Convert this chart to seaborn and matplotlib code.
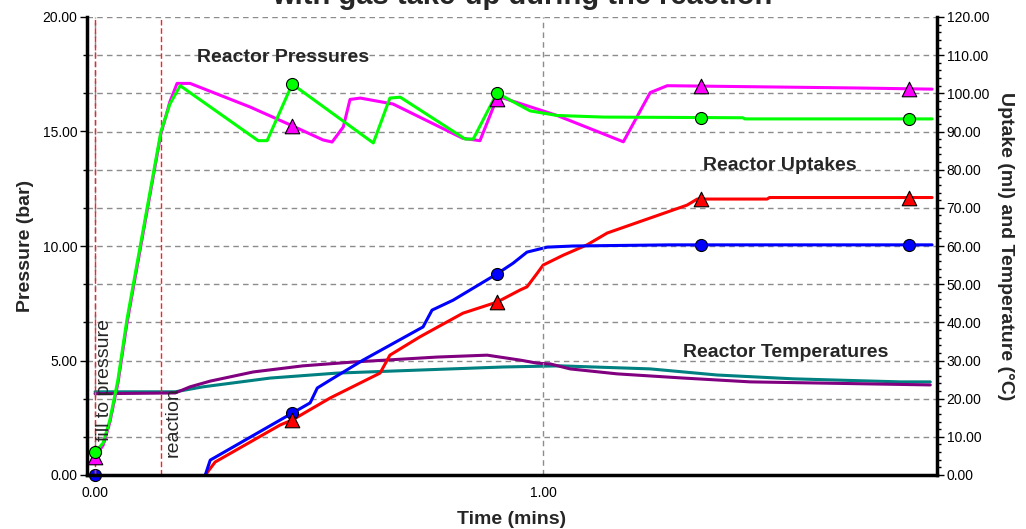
import numpy as np
import pandas as pd
import matplotlib
matplotlib.use("Agg")
import matplotlib.pyplot as plt
import seaborn as sns
from matplotlib.ticker import FixedLocator, MultipleLocator, FormatStrFormatter

# ---------------- data ----------------
# Reactor pressures (bar) - left axis
press_green_t = [0.0, 0.018, 0.033, 0.051, 0.071, 0.147, 0.167, 0.190, 0.364, 0.384, 0.440,
                 0.621, 0.658, 0.681, 0.826, 0.844, 0.897, 0.971, 1.031, 1.134, 1.446, 1.450, 1.868]
press_green_v = [1.0, 1.4, 2.4, 4.15, 6.77, 15.0, 16.2, 17.0, 14.6, 14.6, 17.07,
                 14.5, 16.46, 16.5, 14.67, 14.67, 16.68, 15.9, 15.7, 15.63, 15.6, 15.55, 15.55]

press_magenta_t = [0.0, 0.018, 0.033, 0.051, 0.071, 0.147, 0.167, 0.183, 0.212, 0.346, 0.440,
                   0.509, 0.529, 0.554, 0.569, 0.592, 0.665, 0.821, 0.859, 0.897, 0.911, 1.031,
                   1.179, 1.239, 1.277, 1.701, 1.868]
press_magenta_v = [0.8, 1.3, 2.3, 4.0, 6.6, 14.9, 16.3, 17.1, 17.1, 16.07, 15.25,
                   14.63, 14.54, 15.2, 16.4, 16.46, 16.2, 14.7, 14.6, 16.46, 16.46, 15.7,
                   14.55, 16.7, 17.0, 16.9, 16.85]

# Reactor uptakes (ml) - right axis
upt_blue_t = [0.246, 0.257, 0.413, 0.440, 0.480, 0.496, 0.525, 0.598, 0.732, 0.752, 0.799,
              0.897, 0.933, 0.964, 1.009, 1.067, 1.283, 1.868]
upt_blue_v = [0.0, 3.9, 14.4, 16.2, 18.9, 22.8, 24.9, 30.1, 38.8, 43.2, 45.8,
              52.7, 55.5, 58.4, 59.7, 60.0, 60.3, 60.3]

upt_red_t = [0.246, 0.268, 0.413, 0.440, 0.525, 0.636, 0.652, 0.658, 0.725, 0.821, 0.897,
             0.949, 0.964, 0.987, 1.000, 1.045, 1.098, 1.143, 1.321, 1.344, 1.500, 1.505, 1.868]
upt_red_v = [0.0, 3.4, 13.1, 14.4, 20.2, 26.7, 30.1, 31.4, 36.2, 42.4, 45.3,
             48.5, 49.3, 52.9, 55.0, 57.6, 60.3, 63.4, 70.7, 72.3, 72.3, 72.7, 72.7]

# Reactor temperatures (deg C) - right axis
temp_purple_t = [0.0, 0.179, 0.212, 0.257, 0.353, 0.464, 0.576, 0.763, 0.875, 0.949, 0.987,
                 1.016, 1.060, 1.165, 1.313, 1.462, 1.612, 1.864]
temp_purple_v = [21.3, 21.5, 23.1, 24.6, 27.0, 28.6, 29.6, 30.9, 31.4, 30.1, 29.3,
                 29.1, 27.8, 26.5, 25.4, 24.4, 24.1, 23.6]

temp_teal_t = [0.0, 0.179, 0.241, 0.391, 0.540, 0.725, 0.911, 1.038, 1.239, 1.388, 1.558, 1.797, 1.864]
temp_teal_v = [21.8, 21.8, 23.1, 25.4, 26.7, 27.5, 28.3, 28.6, 27.8, 26.2, 25.2, 24.4, 24.4]

# Markers
mark_t = [0.0, 0.440, 0.897, 1.353, 1.817]
mark_green_v = [1.0, 17.07, 16.68, 15.6, 15.55]
mark_magenta_v = [0.8, 15.25, 16.4, 17.0, 16.85]
mark_blue_t = [0.0, 0.440, 0.897, 1.353, 1.817]
mark_blue_v = [0.0, 16.2, 52.7, 60.3, 60.3]
mark_red_t = [0.440, 0.897, 1.353, 1.817]
mark_red_v = [14.4, 45.3, 72.3, 72.7]

event_times = [0.0, 0.148]
event_labels = ["fill to pressure", "reaction"]

# ---------------- styling ----------------
sns.set_style("white")
plt.rcParams['font.family'] = ['Liberation Sans', 'DejaVu Sans']

C_GREEN, C_MAG, C_BLUE, C_RED = "#00ff00", "#ff00ff", "#0000ff", "#ff0000"
C_PURP, C_TEAL = "#800080", "#008080"
GRID = "#8c8c8c"

fig = plt.figure(figsize=(10.26, 5.29), dpi=100)
ax = fig.add_axes([87/1026, 54/529, 850/1026, 458/529])
ax2 = ax.twinx()
ax.set_zorder(ax2.get_zorder() + 1)
ax.patch.set_visible(False)

def long_df(pairs):
    rows = []
    for name, t, v in pairs:
        rows.append(pd.DataFrame({"t": t, "v": v, "series": name}))
    return pd.concat(rows, ignore_index=True)

press_df = long_df([("Pm", press_magenta_t, press_magenta_v),
                    ("Pg", press_green_t, press_green_v)])
right_df = long_df([("Tt", temp_teal_t, temp_teal_v),
                    ("Tp", temp_purple_t, temp_purple_v),
                    ("Ur", upt_red_t, upt_red_v),
                    ("Ub", upt_blue_t, upt_blue_v)])

sns.lineplot(data=right_df, x="t", y="v", hue="series", hue_order=["Tt", "Tp", "Ur", "Ub"],
             palette={"Tt": C_TEAL, "Tp": C_PURP, "Ur": C_RED, "Ub": C_BLUE},
             estimator=None, sort=False, lw=2.2, legend=False, ax=ax2)
sns.scatterplot(x=mark_blue_t, y=mark_blue_v, marker="o", color=C_BLUE, edgecolor="black",
                linewidth=0.8, s=75, ax=ax2, zorder=5, clip_on=False)
sns.scatterplot(x=mark_red_t, y=mark_red_v, marker="^", color=C_RED, edgecolor="black",
                linewidth=0.8, s=110, ax=ax2, zorder=5)

sns.lineplot(data=press_df, x="t", y="v", hue="series", hue_order=["Pm", "Pg"],
             palette={"Pm": C_MAG, "Pg": C_GREEN},
             estimator=None, sort=False, lw=2.2, legend=False, ax=ax)
sns.scatterplot(x=mark_t, y=mark_magenta_v, marker="^", color=C_MAG, edgecolor="black",
                linewidth=0.8, s=110, ax=ax, zorder=5)
sns.scatterplot(x=mark_t, y=mark_green_v, marker="o", color=C_GREEN, edgecolor="black",
                linewidth=0.8, s=75, ax=ax, zorder=6)

for tt in event_times:
    ax.axvline(tt, color="#ff2020", lw=1.0, ls=(0, (4, 2)), zorder=1)

# limits
ax.set_xlim(-0.018, 1.879)
ax.set_ylim(0, 20)
ax2.set_ylim(0, 120)

# ticks
ax.xaxis.set_major_locator(FixedLocator([0.0, 1.0]))
ax.xaxis.set_minor_locator(FixedLocator([0.25, 0.5, 0.75]))
ax.xaxis.set_major_formatter(FormatStrFormatter("%.2f"))
ax.yaxis.set_major_locator(MultipleLocator(5))
ax.yaxis.set_minor_locator(FixedLocator(list(np.arange(0, 20.01, 20/12))))
ax.yaxis.set_major_formatter(FormatStrFormatter("%.2f"))
ax2.yaxis.set_major_locator(MultipleLocator(10))
ax2.yaxis.set_minor_locator(MultipleLocator(2))
ax2.yaxis.set_major_formatter(FormatStrFormatter("%.2f"))

for a in (ax, ax2):
    a.tick_params(which="major", direction="out", length=5, width=1, color="black",
                  labelsize=10, labelcolor="black", pad=2)
    a.tick_params(which="minor", direction="out", length=3, width=1, color="black")
ax.tick_params(axis="x", pad=3)

# grid
ax2.yaxis.grid(True, which="major", color=GRID, ls=(0, (4, 3)), lw=1.0)
ax.xaxis.grid(True, which="major", color=GRID, ls=(0, (4, 3)), lw=1.0)
ax.yaxis.grid(False)
ax2.xaxis.grid(False)

# spines
for s in ("top", "right"):
    ax.spines[s].set_visible(False)
for s in ("top", "left", "bottom"):
    ax2.spines[s].set_visible(False)
ax.spines["left"].set_color("black"); ax.spines["left"].set_linewidth(2.5)
ax.spines["bottom"].set_color("black"); ax.spines["bottom"].set_linewidth(2.5)
ax2.spines["right"].set_color("black"); ax2.spines["right"].set_linewidth(2.5)

# labels
ax.set_xlabel("Time (mins)", fontsize=14, fontweight="bold", labelpad=8)
ax.set_ylabel("Pressure (bar)", fontsize=14, fontweight="bold", labelpad=6)
ax2.set_ylabel("Uptake (ml) and Temperature (°C)", fontsize=14, fontweight="bold",
               rotation=270, labelpad=18)

# annotations
ax.text(0.228, 18.25, "Reactor Pressures", fontsize=14, fontweight="bold", va="center")
ax2.text(1.357, 81.2, "Reactor Uptakes", fontsize=14, fontweight="bold", va="center")
ax2.text(1.313, 32.0, "Reactor Temperatures", fontsize=14, fontweight="bold", va="center")
ax.text(0.022, 1.5, event_labels[0], rotation=90, fontsize=14, ha="center", va="bottom")
ax.text(0.174, 0.8, event_labels[1], rotation=90, fontsize=14, ha="center", va="bottom")

# title (cut off at the top edge, as in the reference)
fig.text(0.509, 1 - 4/529, "with gas take-up during the reaction", fontsize=21,
         fontweight="bold", ha="center", va="baseline")

fig.savefig("out.png", dpi=100)
